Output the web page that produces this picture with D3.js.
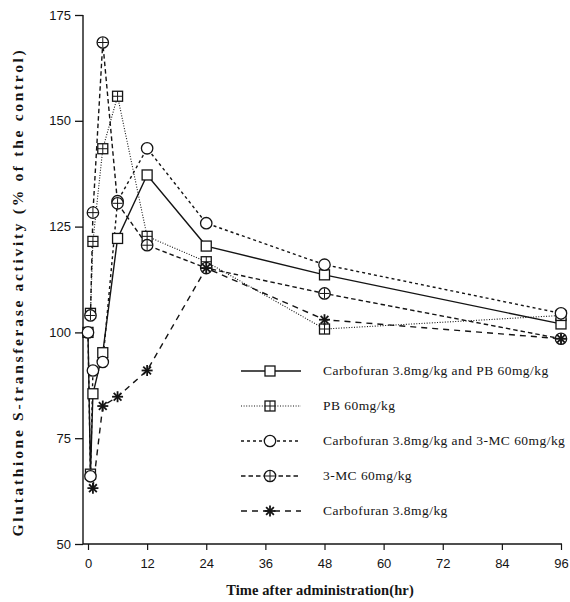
<!DOCTYPE html>
<html>
<head>
<meta charset="utf-8">
<script src="https://cdn.jsdelivr.net/npm/d3@7"></script>
<style>
  body { margin: 0; background: #fff; }
  svg { display: block; font-family: "Liberation Serif", "DejaVu Serif", serif; }
</style>
</head>
<body>
<div id="chart"></div>
<script>
// hours after administration
const TIMES_A = [0, 0.5, 1, 3, 6, 12, 24, 48, 96];
const TIMES_B = [0.5, 1, 3, 6, 12, 24, 48, 96];
const TIMES_C = [1, 3, 6, 12, 24, 48, 96];

// % of control
const CARBO_PB = [100, 66.5, 85.5, 95.2, 122.2, 137.2, 120.4, 113.6, 102];
const PB = [104.5, 121.5, 143.4, 155.8, 122.7, 116.7, 100.8, 104];
const CARBO_3MC = [100, 66, 91, 93, 131, 143.5, 125.8, 116, 104.5];
const MC3 = [104, 128.3, 168.5, 130.5, 120.6, 115.2, 109.2, 98.5];
const CARBO = [63.2, 82.6, 84.8, 91, 115.2, 103, 98.5];

const X_TICKS = [0, 12, 24, 36, 48, 60, 72, 84, 96];
const Y_TICKS = [50, 75, 100, 125, 150, 175];

const LEGEND_LABELS = [
  'Carbofuran 3.8mg/kg and PB 60mg/kg',
  ' PB 60mg/kg',
  'Carbofuran 3.8mg/kg and 3-MC 60mg/kg',
  '3-MC 60mg/kg',
  'Carbofuran 3.8mg/kg'
];

const series = [
  { times: TIMES_A, values: CARBO_PB,  dash: null,    width: 1.4, marker: 'square' },
  { times: TIMES_B, values: PB,        dash: '1,1.6', width: 1.1, marker: 'squarecross' },
  { times: TIMES_A, values: CARBO_3MC, dash: '3,3',   width: 1.4, marker: 'circle' },
  { times: TIMES_B, values: MC3,       dash: '4.5,3', width: 1.4, marker: 'circlecross' },
  { times: TIMES_C, values: CARBO,     dash: '6,5',   width: 1.4, marker: 'star' }
];

const W = 570, H = 602;
const x = d3.scaleLinear().domain([0, 96]).range([88, 561]);
const y = d3.scaleLinear().domain([50, 175]).range([544, 15]);
const axisX = 83;

const svg = d3.select('#chart').append('svg')
  .attr('width', W).attr('height', H)
  .attr('viewBox', `0 0 ${W} ${H}`);

const ink = '#141414';

// y axis
const gy = svg.append('g')
  .attr('transform', `translate(${axisX},0)`)
  .call(d3.axisLeft(y).tickValues(Y_TICKS).tickSize(8).tickPadding(4).tickFormat(d3.format('d')));
gy.select('.domain').remove();
gy.selectAll('line').attr('stroke', ink).attr('stroke-width', 1.3);
gy.selectAll('text').attr('font-size', 13).attr('fill', ink).attr('font-family', null);
gy.append('line').attr('x1', 0).attr('x2', 0).attr('y1', y(175)).attr('y2', y(50))
  .attr('stroke', ink).attr('stroke-width', 1.4);

// x axis
const gx = svg.append('g')
  .attr('transform', `translate(0,${y(50)})`)
  .call(d3.axisBottom(x).tickValues(X_TICKS).tickSize(6).tickPadding(9));
gx.select('.domain').remove();
gx.selectAll('line').attr('stroke', ink).attr('stroke-width', 1.2);
gx.selectAll('text').attr('font-size', 13).attr('fill', ink).attr('font-family', null);
gx.append('line').attr('x1', axisX).attr('x2', x(96) + 1).attr('y1', 0).attr('y2', 0)
  .attr('stroke', ink).attr('stroke-width', 1.4);

// axis titles
svg.append('text')
  .attr('x', 320).attr('y', 595)
  .attr('text-anchor', 'middle')
  .attr('font-size', 14.5).attr('font-weight', 'bold')
  .attr('letter-spacing', 0.1)
  .attr('fill', ink)
  .text('Time after administration(hr)');

svg.append('text')
  .attr('transform', 'translate(23,292) rotate(-90)')
  .attr('text-anchor', 'middle')
  .attr('font-size', 15.5).attr('font-weight', 'bold')
  .attr('letter-spacing', 2.7)
  .attr('fill', ink)
  .text('Glutathione S-transferase activity (% of the control)');

function drawMarker(g, kind, cx, cy) {
  const s = 5;
  if (kind === 'square' || kind === 'squarecross') {
    g.append('rect').attr('x', cx - s).attr('y', cy - s).attr('width', 2 * s).attr('height', 2 * s)
      .attr('fill', '#fff').attr('stroke', ink).attr('stroke-width', 1.3);
    if (kind === 'squarecross') {
      g.append('line').attr('x1', cx - s).attr('x2', cx + s).attr('y1', cy).attr('y2', cy)
        .attr('stroke', ink).attr('stroke-width', 1);
      g.append('line').attr('x1', cx).attr('x2', cx).attr('y1', cy - s).attr('y2', cy + s)
        .attr('stroke', ink).attr('stroke-width', 1);
    }
  } else if (kind === 'circle' || kind === 'circlecross') {
    g.append('circle').attr('cx', cx).attr('cy', cy).attr('r', s + 0.7)
      .attr('fill', '#fff').attr('stroke', ink).attr('stroke-width', 1.3);
    if (kind === 'circlecross') {
      g.append('line').attr('x1', cx - s).attr('x2', cx + s).attr('y1', cy).attr('y2', cy)
        .attr('stroke', ink).attr('stroke-width', 1);
      g.append('line').attr('x1', cx).attr('x2', cx).attr('y1', cy - s).attr('y2', cy + s)
        .attr('stroke', ink).attr('stroke-width', 1);
    }
  } else if (kind === 'star') {
    const r = 5.5;
    for (let k = 0; k < 4; k++) {
      const a = k * Math.PI / 4;
      g.append('line')
        .attr('x1', cx - r * Math.cos(a)).attr('y1', cy - r * Math.sin(a))
        .attr('x2', cx + r * Math.cos(a)).attr('y2', cy + r * Math.sin(a))
        .attr('stroke', ink).attr('stroke-width', 1.8);
    }
  }
}

const line = d3.line().x(d => x(d[0])).y(d => y(d[1]));

// lines first, markers on top
series.forEach(s => {
  const pts = s.times.map((t, i) => [t, s.values[i]]);
  svg.append('path')
    .attr('d', line(pts))
    .attr('fill', 'none')
    .attr('stroke', ink)
    .attr('stroke-width', s.width)
    .attr('stroke-dasharray', s.dash);
});
series.forEach(s => {
  const g = svg.append('g');
  s.times.forEach((t, i) => drawMarker(g, s.marker, x(t), y(s.values[i])));
});

// legend
const legend = svg.append('g');
series.forEach((s, i) => {
  const ly = 371 + i * 35;
  legend.append('line')
    .attr('x1', 241).attr('x2', 301).attr('y1', ly).attr('y2', ly)
    .attr('stroke', ink).attr('stroke-width', s.width)
    .attr('stroke-dasharray', s.dash);
  drawMarker(legend, s.marker, 270, ly);
  legend.append('text')
    .attr('x', 323).attr('y', ly + 4)
    .attr('font-size', 13.5)
    .attr('letter-spacing', 0.45)
    .attr('fill', ink)
    .text(LEGEND_LABELS[i]);
});
</script>
</body>
</html>
